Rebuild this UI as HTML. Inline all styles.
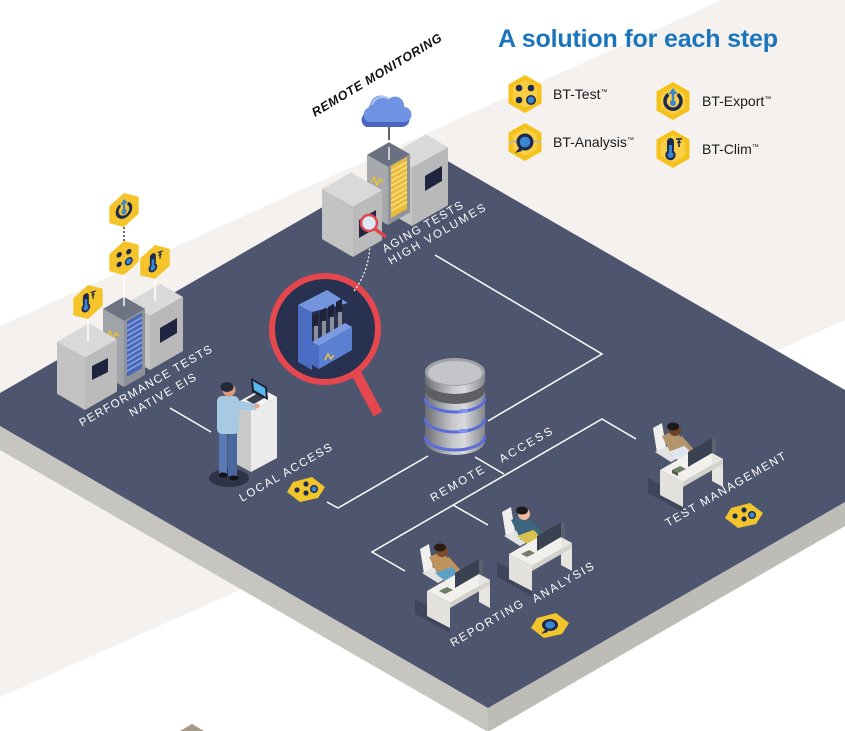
<!DOCTYPE html>
<html><head><meta charset="utf-8"><style>
html,body{margin:0;padding:0;background:#fff;}
svg{display:block;}
text{font-family:"Liberation Sans",sans-serif;}
</style></head><body>
<svg width="845" height="731" viewBox="0 0 845 731" xmlns="http://www.w3.org/2000/svg">
<defs>
 <linearGradient id="db" x1="0" x2="1" y1="0" y2="0">
  <stop offset="0" stop-color="#6d6e73"/><stop offset="0.45" stop-color="#c6c7ca"/><stop offset="0.65" stop-color="#d9dadc"/><stop offset="1" stop-color="#85868b"/>
 </linearGradient>
 <g id="hexL"><polygon points="0,-19 16.5,-9.5 16.5,9.5 0,19 -16.5,9.5 -16.5,-9.5" fill="#f5c21b"/><polygon points="0,-14 12,-7 12,7 0,14 -12,7 -12,-7" fill="#f8cf45"/></g>
 <g id="icTest"><circle cx="-6" cy="-6" r="3.3" fill="#1e2a4f"/><circle cx="6" cy="-6" r="3.3" fill="#1e2a4f"/><circle cx="-6" cy="6" r="3.3" fill="#1e2a4f"/><circle cx="6" cy="6" r="5" fill="#1e2a4f"/><circle cx="6" cy="6" r="3.4" fill="#3a86d0"/></g>
 <g id="icAna"><path d="M-16,2 Q-11,-3 -6,1 M6,1 Q11,-3 16,2" stroke="#b8b8b8" stroke-width="1.5" fill="none"/><polygon points="-5,5 -10,11 -3,9" fill="#1e2a4f"/><circle r="8.5" fill="#1e2a4f"/><circle r="5.3" fill="#3a86d0"/></g>
 <g id="icExp"><path d="M-4.5,-6.5 A8,8 0 1 0 4.5,-6.5" stroke="#1e2a4f" stroke-width="3.5" fill="none"/><line x1="0" y1="2" x2="0" y2="-8" stroke="#3a86d0" stroke-width="2.5"/><polygon points="-4.5,-7 0,-13 4.5,-7" fill="#3a86d0"/><circle cy="2" r="3" fill="#3a86d0"/></g>
 <g id="icClim"><rect x="-6" y="-11" width="7" height="15" rx="3.5" fill="#1e2a4f"/><circle cx="-2.5" cy="6" r="5.2" fill="#1e2a4f"/><rect x="-4" y="-4" width="3" height="10" fill="#3a86d0"/><circle cx="-2.5" cy="6" r="3" fill="#3a86d0"/><line x1="6" y1="-9" x2="6" y2="-2" stroke="#1e2a4f" stroke-width="1.6"/><line x1="3" y1="-10" x2="9" y2="-10" stroke="#1e2a4f" stroke-width="1.6"/><polygon points="3.5,-6 6,-9 8.5,-6" fill="#1e2a4f"/></g>
 <polygon id="hexF" points="-19,3 -13,-7 6,-12 19,-2 12,9 -6,13" fill="#f2c52c"/>
 <polygon id="hexS" points="0,-17 14.7,-8.5 14.7,8.5 0,17 -14.7,8.5 -14.7,-8.5" fill="#f5c42a"/>
</defs>

<!-- background -->
<rect width="845" height="731" fill="#fff"/>
<polygon points="722,0 845,0 845,320 0,697 0,326" fill="#f4f1ef"/>
<polygon points="180,731 192,724 204,731" fill="#a39a86"/>

<!-- platform -->
<polygon points="0,426 488,708 488,732 0,450" fill="#c7c5bf"/>
<polygon points="488,708 845,502 845,526 488,732" fill="#bebcb6"/>
<polygon points="425,148 845,390 845,502 488,708 0,426 0,393" fill="#4e556e"/>

<!-- connector lines -->
<g stroke="#fff" stroke-width="1.5" fill="none">
 <polyline points="435,255 602,354 488,421"/>
 <polyline points="428,456 338,508 327,502"/>
 <polyline points="475,457 504,474"/>
 <polyline points="636,439 602,419 372,552 405,571"/>
 <polyline points="453,505 488,525"/>
 <polyline points="170,408 211,432"/>
</g>

<!-- floor labels -->
<g fill="#fff" font-size="11.5">
 <text transform="translate(82,427) rotate(-30)" textLength="151">PERFORMANCE TESTS</text>
 <text transform="translate(132,417) rotate(-30)" textLength="75">NATIVE EIS</text>
 <text transform="translate(242,502) rotate(-30)" textLength="105">LOCAL ACCESS</text>
 <text transform="translate(433,502) rotate(-30)" textLength="60">REMOTE</text>
 <text transform="translate(502,463) rotate(-30)" textLength="59">ACCESS</text>
 <text transform="translate(668,527) rotate(-30)" textLength="137">TEST MANAGEMENT</text>
 <text transform="translate(453,647) rotate(-30)" textLength="82">REPORTING</text>
 <text transform="translate(535,603) rotate(-30)" textLength="69">ANALYSIS</text>
</g>

<!-- floor hexes -->
<g transform="translate(306,489)"><use href="#hexF"/><circle cx="-9" cy="1" r="2.6" fill="#1e2a4f"/><circle cx="0" cy="-5" r="2.6" fill="#1e2a4f"/><circle cx="0" cy="4" r="2.6" fill="#1e2a4f"/><circle cx="8" cy="0" r="4" fill="#1e2a4f"/><circle cx="8" cy="0" r="2.6" fill="#3a86d0"/></g>
<g transform="translate(744,515)"><use href="#hexF"/><circle cx="-9" cy="1" r="2.6" fill="#1e2a4f"/><circle cx="0" cy="-5" r="2.6" fill="#1e2a4f"/><circle cx="0" cy="4" r="2.6" fill="#1e2a4f"/><circle cx="8" cy="0" r="4" fill="#1e2a4f"/><circle cx="8" cy="0" r="2.6" fill="#3a86d0"/></g>
<g transform="translate(550,625)"><use href="#hexF"/><polygon points="-4,4 -9,9 -2,7" fill="#1e2a4f"/><ellipse rx="8" ry="6" fill="#1e2a4f"/><ellipse rx="4.8" ry="3.6" fill="#3a86d0"/></g>

<!-- desks with people -->
<g>
 <polygon points="648,478 683,497 683,512 648,493" fill="#3f455a"/>
 <polygon points="653,428 662,423 666,447 657,453" fill="#efefed"/>
 <polygon points="655,452 668,446 684,455 671,462" fill="#e2e2e0"/>
 <polygon points="662,436 676,430 686,446 672,456" fill="#b4946a"/>
 <polygon points="668,452 684,446 694,452 678,460" fill="#dfe6f0"/>
 <polygon points="678,438 682,436 696,452 692,454" fill="#b4946a"/>
 <circle cx="675" cy="430" r="6" fill="#6b4226"/>
 <ellipse cx="673" cy="426.5" rx="6" ry="4" fill="#1a1a1a"/>
 <polygon points="660,470 683,482 723,459 700,447" fill="#f1f0ec"/>
 <polygon points="712,453 723,459 723,487 712,481" fill="#e6e5e0"/>
 <polygon points="660,470 683,482 683,507 660,495" fill="#e2e1dc"/>
 <polygon points="683,482 723,459 723,464 683,487" fill="#d3d2cc"/>
 <polygon points="688,452 712,438 712,453 688,467" fill="#3a4150"/>
 <polygon points="712,438 716,440 716,455 712,453" fill="#5a6272"/>
 <polygon points="672,470 680,466 686,469 678,473" fill="#6f7d68"/>
 <polygon points="672,470 678,473 678,476 672,473" fill="#4d5a48"/>
</g>
<g transform="translate(-151,84)">
 <polygon points="648,478 683,497 683,512 648,493" fill="#3f455a"/>
 <polygon points="653,428 662,423 666,447 657,453" fill="#efefed"/>
 <polygon points="655,452 668,446 684,455 671,462" fill="#e2e2e0"/>
 <polygon points="662,436 676,430 686,446 672,456" fill="#3d6580"/>
 <polygon points="668,452 684,446 694,452 678,460" fill="#d8c24e"/>
 <polygon points="678,438 682,436 696,452 692,454" fill="#3d6580"/>
 <circle cx="675" cy="430" r="6" fill="#f0b9a0"/>
 <ellipse cx="673" cy="426.5" rx="6" ry="4" fill="#1a1a1a"/>
 <polygon points="660,470 683,482 723,459 700,447" fill="#f1f0ec"/>
 <polygon points="712,453 723,459 723,487 712,481" fill="#e6e5e0"/>
 <polygon points="660,470 683,482 683,507 660,495" fill="#e2e1dc"/>
 <polygon points="683,482 723,459 723,464 683,487" fill="#d3d2cc"/>
 <polygon points="688,452 712,438 712,453 688,467" fill="#3a4150"/>
 <polygon points="712,438 716,440 716,455 712,453" fill="#5a6272"/>
 <polygon points="672,470 680,466 686,469 678,473" fill="#6f7d68"/>
</g>
<g transform="translate(-233,121)">
 <polygon points="648,478 683,497 683,512 648,493" fill="#3f455a"/>
 <polygon points="653,428 662,423 666,447 657,453" fill="#efefed"/>
 <polygon points="655,452 668,446 684,455 671,462" fill="#e2e2e0"/>
 <polygon points="662,436 676,430 686,446 672,456" fill="#c0935c"/>
 <polygon points="668,452 684,446 694,452 678,460" fill="#5da2c4"/>
 <polygon points="678,438 682,436 696,452 692,454" fill="#c0935c"/>
 <circle cx="675" cy="430" r="6" fill="#7a4a2a"/>
 <ellipse cx="673" cy="426.5" rx="6" ry="4" fill="#2a1c14"/>
 <polygon points="660,470 683,482 723,459 700,447" fill="#f1f0ec"/>
 <polygon points="712,453 723,459 723,487 712,481" fill="#e6e5e0"/>
 <polygon points="660,470 683,482 683,507 660,495" fill="#e2e1dc"/>
 <polygon points="683,482 723,459 723,464 683,487" fill="#d3d2cc"/>
 <polygon points="688,452 712,438 712,453 688,467" fill="#3a4150"/>
 <polygon points="712,438 716,440 716,455 712,453" fill="#5a6272"/>
 <polygon points="672,470 680,466 686,469 678,473" fill="#6f7d68"/>
</g>

<!-- database -->
<path d="M425,372 L425,441 A30,14 0 0 0 485,441 L485,372 Z" fill="url(#db)"/>
<path d="M425,380 A30,14 0 0 0 485,380 L485,390 A30,14 0 0 1 425,390 Z" fill="#5e5f65"/>
<g stroke="#5b6ed8" stroke-width="3" fill="none">
 <path d="M425,398 A30,14 0 0 0 485,398"/>
 <path d="M425,418 A30,14 0 0 0 485,418"/>
 <path d="M425,436 A30,14 0 0 0 485,436"/>
</g>
<ellipse cx="463" cy="411" rx="5" ry="2" fill="#7d8ff0"/>
<ellipse cx="463" cy="431" rx="5" ry="2" fill="#7d8ff0"/>
<ellipse cx="455" cy="372" rx="30" ry="14" fill="#9fa1a6"/>
<ellipse cx="455" cy="373" rx="27" ry="12" fill="#c3c5c9"/>

<!-- big magnifier -->
<line x1="356" y1="373" x2="378" y2="414" stroke="#e5474e" stroke-width="10"/>
<circle cx="325" cy="329" r="53" fill="#293150" stroke="#e5474e" stroke-width="6"/>
<polygon points="298,305 312,312 312,370 298,362" fill="#4a6cc2"/>
<polygon points="298,305 327,290 348,303 312,312" fill="#7495de"/>
<g fill="#8a8f99">
 <rect x="314" y="326" width="4" height="16"/><rect x="322" y="321" width="4" height="16"/><rect x="330" y="317" width="4" height="16"/><rect x="338" y="312" width="4" height="16"/>
</g>
<g fill="#1d2238">
 <polygon points="312,316 318,312.5 318,324 312,327.5"/>
 <polygon points="320,311 326,307.5 326,319 320,322.5"/>
 <polygon points="328,307 334,303.5 334,315 328,318.5"/>
 <polygon points="336,302 342,298.5 342,310 336,313.5"/>
</g>
<polygon points="312,342 345,323 352,327 319,346" fill="#7c9be2"/>
<polygon points="319,346 352,327 352,350 319,369" fill="#5b7fd2"/>
<polygon points="312,342 319,346 319,369 312,365" fill="#4a6cc2"/>
<path d="M325,360 l3,-6 l3,5 l3,-4" stroke="#f0c83a" stroke-width="1.4" fill="none"/>
<path d="M354,291 C366,275 372,255 369,232" stroke="#fff" stroke-width="1.2" stroke-dasharray="2,2" fill="none"/>

<!-- local access man & podium -->
<ellipse cx="229" cy="478" rx="20" ry="9" fill="#2e3347"/>
<polygon points="236,403 262,389 277,397 251,411" fill="#f4f4f2"/>
<polygon points="251,411 277,397 277,458 251,472" fill="#ebebea"/>
<polygon points="236,403 251,411 251,472 236,464" fill="#c9c9c7"/>
<polygon points="246,400 258,393 266,397 254,404" fill="#3a3f4c"/>
<polygon points="251,378 267,387 268,400 252,392" fill="#1c2130"/>
<polygon points="253,381 265,388 266,397 254,390" fill="#58b6ec"/>
<rect x="219" y="430" width="8" height="44" fill="#5a78b4"/>
<rect x="228" y="430" width="9" height="46" fill="#4b67a0"/>
<ellipse cx="223" cy="475" rx="4.5" ry="2.5" fill="#141414"/>
<ellipse cx="234" cy="478" rx="4.5" ry="2.5" fill="#141414"/>
<rect x="217" y="396" width="22" height="38" rx="5" fill="#a7c9e4"/>
<polygon points="232,399 256,404 256,410 232,410" fill="#a7c9e4"/>
<circle cx="257" cy="406" r="2.5" fill="#e0a98a"/>
<circle cx="229" cy="390" r="6.5" fill="#d99b78"/>
<ellipse cx="227" cy="387" rx="6.5" ry="5" fill="#22283a"/>

<!-- performance servers -->
<polygon points="127,302.7 160,283.7 183,297 150,316" fill="#d9d9d9"/>
<polygon points="127,302.7 150,316 150,370 127,356.7" fill="#c4c4c4"/>
<polygon points="150,316 183,297 183,351 150,370" fill="#b9b9b9"/>
<polygon points="160,328 177,318 177,333 160,343" fill="#1f2440"/>
<polygon points="103,308.9 124,296.8 145,308.9 124,321" fill="#6d7383"/>
<polygon points="103,308.9 124,321 124,387 103,374.9" fill="#a0a3a8"/>
<polygon points="124,321 145,308.9 145,374.9 124,387" fill="#8e939a"/>
<polygon points="127,321.3 142,312.6 142,368 127,376.7" fill="#4a66b5"/>
<g stroke="#85a3ea" stroke-width="1.6">
 <line x1="127" y1="326" x2="142" y2="317.3"/><line x1="127" y1="331" x2="142" y2="322.3"/><line x1="127" y1="336" x2="142" y2="327.3"/><line x1="127" y1="341" x2="142" y2="332.3"/><line x1="127" y1="346" x2="142" y2="337.3"/><line x1="127" y1="351" x2="142" y2="342.3"/><line x1="127" y1="356" x2="142" y2="347.3"/><line x1="127" y1="361" x2="142" y2="352.3"/><line x1="127" y1="366" x2="142" y2="357.3"/><line x1="127" y1="371" x2="142" y2="362.3"/>
</g>
<path d="M107,336 l3,-5 l3,8 l3,-6 l3,3" stroke="#e8c22e" stroke-width="1.5" fill="none"/>
<polygon points="57,341.8 89,323.3 117,339.5 85,358" fill="#d9d9d9"/>
<polygon points="57,341.8 85,358 85,410 57,393.8" fill="#c3c3c3"/>
<polygon points="85,358 117,339.5 117,391.5 85,410" fill="#bbbbbb"/>
<polygon points="92,366 108,358 108,372 92,380" fill="#1f2440"/>

<!-- floating hexes -->
<line x1="124" y1="227" x2="124" y2="242" stroke="#222" stroke-width="1.3" stroke-dasharray="2,2"/>
<g stroke="#fff" stroke-width="1.5">
 <line x1="124" y1="274" x2="124" y2="306"/><line x1="155" y1="278" x2="155" y2="301"/><line x1="88" y1="318" x2="88" y2="341"/>
</g>
<g transform="translate(124,210) skewY(-18)"><use href="#hexS"/><g transform="scale(0.85)"><use href="#icExp"/></g></g>
<g transform="translate(124,258) skewY(-18)"><use href="#hexS"/><g transform="scale(0.8)"><use href="#icTest"/></g></g>
<g transform="translate(155,262) skewY(-18)"><use href="#hexS"/><g transform="scale(0.85)"><use href="#icClim"/></g></g>
<g transform="translate(88,302) skewY(-18)"><use href="#hexS"/><g transform="scale(0.85)"><use href="#icClim"/></g></g>

<!-- aging servers -->
<polygon points="390,155.3 426,134.5 448,147.2 412,168" fill="#d9d9d9"/>
<polygon points="390,155.3 412,168 412,226 390,213.3" fill="#c4c4c4"/>
<polygon points="412,168 448,147.2 448,205.2 412,226" fill="#b9b9b9"/>
<polygon points="425,176 442,166 442,181 425,191" fill="#1f2440"/>
<polygon points="367,154.9 389,142.2 410,154.3 388,167" fill="#6b7080"/>
<polygon points="367,154.9 388,167 388,225 367,212.9" fill="#a7a9ad"/>
<polygon points="388,167 410,154.3 410,212.3 388,225" fill="#8e939a"/>
<polygon points="391,166 407,157 407,209 391,218" fill="#e9bc3a"/>
<g stroke="#f9e08a" stroke-width="1.4">
 <line x1="391" y1="171" x2="407" y2="162"/><line x1="391" y1="176" x2="407" y2="167"/><line x1="391" y1="181" x2="407" y2="172"/><line x1="391" y1="186" x2="407" y2="177"/><line x1="391" y1="191" x2="407" y2="182"/><line x1="391" y1="196" x2="407" y2="187"/><line x1="391" y1="201" x2="407" y2="192"/><line x1="391" y1="206" x2="407" y2="197"/><line x1="391" y1="211" x2="407" y2="202"/>
</g>
<path d="M371,182 l3,-5 l3,8 l3,-6 l3,3" stroke="#e8c22e" stroke-width="1.5" fill="none"/>
<polygon points="322,189.1 351,172.4 382,190.3 353,207" fill="#d9d9d9"/>
<polygon points="322,189.1 353,207 353,257 322,239.1" fill="#c3c3c3"/>
<polygon points="353,207 382,190.3 382,240.3 353,257" fill="#bbbbbb"/>
<polygon points="359,220 376,210 376,228 359,238" fill="#1f2440"/>
<line x1="375" y1="229" x2="386" y2="237" stroke="#e0464d" stroke-width="3.5"/>
<circle cx="369" cy="223" r="8" fill="#dbe9f7" stroke="#e0464d" stroke-width="2.5"/>

<g fill="#fff" font-size="11.5">
 <text transform="translate(385,253) rotate(-30)" textLength="91">AGING TESTS</text>
 <text transform="translate(391,265) rotate(-30)" textLength="110">HIGH VOLUMES</text>
</g>

<!-- cloud -->
<line x1="389" y1="124" x2="389" y2="140" stroke="#111" stroke-width="1.3"/>
<line x1="389" y1="147" x2="389" y2="160" stroke="#fff" stroke-width="1.3"/>
<path d="M366,127 a8,8 0 0 1 2,-15 a11,11 0 0 1 19,-8 a9,9 0 0 1 15,8 a7,7 0 0 1 0,15 z" fill="#4865c0"/>
<path d="M368,122 a8,8 0 0 1 2,-15 a11,11 0 0 1 19,-8 a9,9 0 0 1 15,8 a7,7 0 0 1 0,15 z" fill="#6f92e4"/>
<path d="M372,105 a11,11 0 0 1 17,-6" stroke="#b3c7f2" stroke-width="2" fill="none"/>

<text transform="translate(315,117) rotate(-31)" textLength="149" font-size="12.5" font-weight="bold" font-style="italic" fill="#111">REMOTE MONITORING</text>

<!-- legend -->
<text x="498" y="47" font-size="25" font-weight="bold" fill="#1b75bc" textLength="280">A solution for each step</text>
<g transform="translate(525,94)"><use href="#hexL"/><use href="#icTest"/></g>
<g transform="translate(525,142)"><use href="#hexL"/><use href="#icAna"/></g>
<g transform="translate(673,101)"><use href="#hexL"/><use href="#icExp"/></g>
<g transform="translate(673,149)"><use href="#hexL"/><use href="#icClim"/></g>
<g font-size="14" fill="#1a1a1a">
 <text x="553" y="99">BT-Test<tspan font-size="7" dy="-5">™</tspan></text>
 <text x="553" y="147">BT-Analysis<tspan font-size="7" dy="-5">™</tspan></text>
 <text x="702" y="106">BT-Export<tspan font-size="7" dy="-5">™</tspan></text>
 <text x="702" y="154">BT-Clim<tspan font-size="7" dy="-5">™</tspan></text>
</g>
</svg>
</body></html>
